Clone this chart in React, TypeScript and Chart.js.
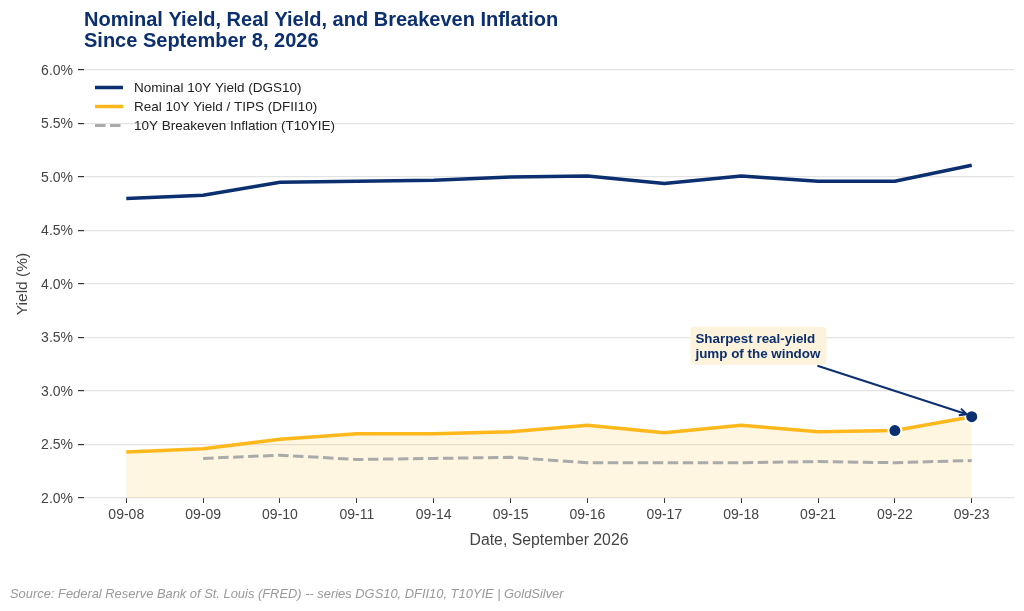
import { useEffect, useRef } from "react"
import { Chart, registerables, type Plugin } from "chart.js"

Chart.register(...registerables)

const dates = ["09-08", "09-09", "09-10", "09-11", "09-14", "09-15", "09-16", "09-17", "09-18", "09-21", "09-22", "09-23"]
const nominal = [4.8, 4.83, 4.95, 4.96, 4.97, 5.0, 5.01, 4.94, 5.01, 4.96, 4.96, 5.11]
const real = [2.43, 2.46, 2.55, 2.6, 2.6, 2.62, 2.68, 2.61, 2.68, 2.62, 2.63, 2.76]
const breakeven = [null, 2.37, 2.4, 2.36, 2.37, 2.38, 2.33, 2.33, 2.33, 2.34, 2.33, 2.35]
const highlighted = [null, null, null, null, null, null, null, null, null, null, 2.63, 2.76]

const titleLines = ["Nominal Yield, Real Yield, and Breakeven Inflation", "Since September 8, 2026"]
const sourceText = "Source: Federal Reserve Bank of St. Louis (FRED) -- series DGS10, DFII10, T10YIE | GoldSilver"
const calloutLines = ["Sharpest real-yield", "jump of the window"]

const NAVY = "#0b2f6f"
const GOLD = "#ffb81c"
const GREY = "#aaaaaa"
const FONT = "'Liberation Sans', Arial, sans-serif"

const points = (values: (number | null)[]) => values.map((y, x) => ({ x, y }))

// legend keys, callout box, arrow and source line
const extras: Plugin<"line"> = {
  id: "extras",
  afterDatasetsDraw(chart) {
    const { ctx, scales, chartArea } = chart
    const left = scales.x.getPixelForValue(7.34)
    const top = scales.y.getPixelForValue(3.6)
    const width = 136
    const height = 38

    ctx.save()
    ctx.textBaseline = "middle"
    ctx.textAlign = "left"

    chart.data.datasets
      .filter((d) => d.label !== "highlight")
      .forEach((d: any, i) => {
        const y = chartArea.top + 17.5 + i * 19
        ctx.strokeStyle = d.borderColor
        ctx.lineWidth = d.borderWidth
        ctx.setLineDash(d.borderDash ?? [])
        ctx.beginPath()
        ctx.moveTo(chartArea.left + 11, y)
        ctx.lineTo(chartArea.left + 39, y)
        ctx.stroke()
        ctx.setLineDash([])
        ctx.fillStyle = "#222222"
        ctx.font = `13.5px ${FONT}`
        ctx.fillText(d.label, chartArea.left + 50, y + 1)
      })

    ctx.fillStyle = "#fdf3dc"
    ctx.beginPath()
    ctx.roundRect(left, top, width, height, 4)
    ctx.fill()

    ctx.fillStyle = NAVY
    ctx.font = `bold 13.4px ${FONT}`
    calloutLines.forEach((line, i) => ctx.fillText(line, left + 5, top + 12.5 + i * 15.5))

    const fromX = left + 127
    const fromY = top + 39
    const toX = scales.x.getPixelForValue(11) - 5
    const toY = scales.y.getPixelForValue(2.76) - 2.5
    const angle = Math.atan2(toY - fromY, toX - fromX)
    ctx.strokeStyle = NAVY
    ctx.lineWidth = 2
    ctx.beginPath()
    ctx.moveTo(fromX, fromY)
    ctx.lineTo(toX, toY)
    ctx.moveTo(toX - 8 * Math.cos(angle - 0.45), toY - 8 * Math.sin(angle - 0.45))
    ctx.lineTo(toX, toY)
    ctx.lineTo(toX - 8 * Math.cos(angle + 0.45), toY - 8 * Math.sin(angle + 0.45))
    ctx.stroke()

    ctx.fillStyle = "#999999"
    ctx.font = `italic 12.9px ${FONT}`
    ctx.fillText(sourceText, 10, 594)
    ctx.restore()
  },
}

export default function App() {
  const chartRef = useRef<HTMLCanvasElement>(null)

  useEffect(() => {
    if (!chartRef.current) return

    const chart = new Chart(chartRef.current, {
      type: "line",
      data: {
        datasets: [
          {
            label: "highlight",
            data: points(highlighted),
            showLine: false,
            pointRadius: 6.5,
            pointBackgroundColor: NAVY,
            pointBorderColor: "#ffffff",
            pointBorderWidth: 2,
            order: 0,
          },
          {
            label: "Nominal 10Y Yield (DGS10)",
            data: points(nominal),
            borderColor: NAVY,
            borderWidth: 3.5,
            pointRadius: 0,
            tension: 0,
            order: 1,
          },
          {
            label: "Real 10Y Yield / TIPS (DFII10)",
            data: points(real),
            borderColor: GOLD,
            backgroundColor: "rgba(255, 184, 28, 0.13)",
            borderWidth: 3.5,
            pointRadius: 0,
            tension: 0,
            fill: "start",
            order: 3,
          },
          {
            label: "10Y Breakeven Inflation (T10YIE)",
            data: points(breakeven),
            borderColor: GREY,
            borderWidth: 3,
            borderDash: [10.5, 4.5],
            pointRadius: 0,
            tension: 0,
            order: 2,
          },
        ],
      },
      options: {
        responsive: false,
        animation: false,
        devicePixelRatio: 1,
        layout: { padding: { top: 0, right: 10, bottom: 61, left: 0 } },
        plugins: {
          title: {
            display: true,
            text: titleLines,
            align: "start",
            fullSize: false,
            color: NAVY,
            font: { family: FONT, size: 20, weight: "bold", lineHeight: 1.05 },
            padding: { top: 10, bottom: 18 },
          },
          legend: { display: false },
          tooltip: { enabled: false },
        },
        scales: {
          x: {
            type: "linear",
            min: -0.55,
            max: 11.55,
            afterBuildTicks: (axis) => {
              axis.ticks = dates.map((_, i) => ({ value: i }))
            },
            afterFit: (axis) => {
              axis.height = 52
            },
            grid: { drawOnChartArea: false, tickColor: "#333333", tickLength: 5 },
            border: { display: false },
            ticks: {
              autoSkip: false,
              maxRotation: 0,
              padding: 4,
              color: "#444444",
              font: { family: FONT, size: 14 },
              callback: (value) => dates[Number(value)],
            },
            title: {
              display: true,
              text: "Date, September 2026",
              color: "#444444",
              font: { family: FONT, size: 15.8 },
              padding: { top: 8, bottom: 0 },
            },
          },
          y: {
            min: 2,
            max: 6,
            afterFit: (axis) => {
              axis.width = 84
            },
            grid: { color: "#e4e4e4", lineWidth: 1.2, tickColor: "#333333", tickLength: 6 },
            border: { display: false },
            ticks: {
              stepSize: 0.5,
              padding: 5,
              labelOffset: 1,
              color: "#444444",
              font: { family: FONT, size: 14 },
              callback: (value) => `${Number(value).toFixed(1)}%`,
            },
            title: {
              display: true,
              text: "Yield (%)",
              color: "#444444",
              font: { family: FONT, size: 15.5 },
              padding: { top: 13, bottom: 4 },
            },
          },
        },
      },
      plugins: [extras],
    })

    return () => {
      chart.destroy()
    }
  }, [])

  return (
    <div style={{ position: "absolute", top: 0, left: 0, width: 1024, height: 611, background: "#ffffff" }}>
      <canvas ref={chartRef} width={1024} height={611} style={{ display: "block" }} />
    </div>
  )
}
